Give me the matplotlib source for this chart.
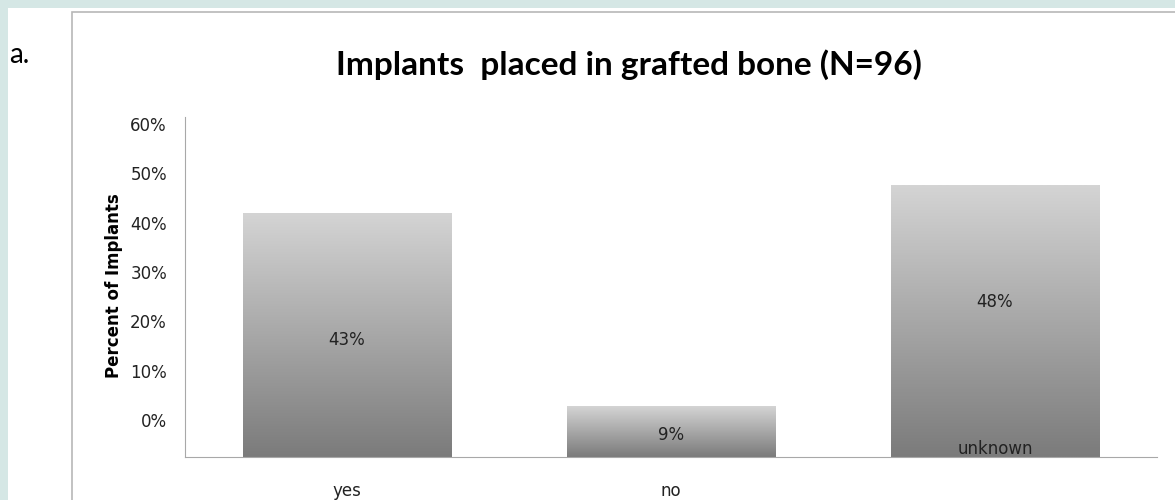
import numpy as np
import matplotlib.pyplot as plt
from matplotlib.colors import LinearSegmentedColormap
from matplotlib.patches import Rectangle

categories = ["yes", "no", "unknown"]
percents = [43, 9, 48]
tick_values = [0, 10, 20, 30, 40, 50, 60]
tick_labels = ["0%", "10%", "20%", "30%", "40%", "50%", "60%"]

narrow = ["Liberation Sans Narrow", "DejaVu Sans"]

fig = plt.figure(figsize=(11.75, 5), dpi=100)
fig.patch.set_facecolor("#d5e7e5")

# white slide panel and chart frame
fig.add_artist(Rectangle((8 / 1175, 0), 1, 1 - 8 / 500, transform=fig.transFigure,
                         facecolor="white", edgecolor="none", zorder=0))
fig.add_artist(Rectangle((72 / 1175, -0.1), 1, 1.1 - 12 / 500, transform=fig.transFigure,
                         facecolor="none", edgecolor="#b8b8b8", lw=1.2, zorder=1))
fig.text(9 / 1175, 1 - 63 / 500, "a.", fontsize=20, family="Lato", va="baseline", ha="left")

ax = fig.add_axes([185 / 1175, 43 / 500, 972 / 1175, 340 / 500])
ax.set_facecolor("none")

gray = LinearSegmentedColormap.from_list("bar", ["#7b7b7b", "#d4d4d4"])
grad = np.linspace(0, 1, 256).reshape(-1, 1)
width = 0.644
x = np.arange(len(categories))
for xi, p in zip(x, percents):
    ax.imshow(grad, cmap=gray, aspect="auto", origin="lower",
              extent=(xi - width / 2, xi + width / 2, 0, p), zorder=2)
ax.set_xlim(-0.5, 2.5)
ax.set_ylim(0, 60)

# value labels inside the bars
label_frac = [0.48, 0.43, 0.57]
for xi, p, f in zip(x, percents, label_frac):
    ax.text(xi, p * f, f"{p}%", ha="center", va="center", fontsize=12,
            family=narrow, color="#222222", zorder=3)

# category labels below the axis (the last one sits inside its bar)
cat_y = [-0.1, -0.1, 0.024]
for xi, c, cy in zip(x, categories, cat_y):
    ax.text(xi, cy, c, transform=ax.get_xaxis_transform(), ha="center", va="center",
            fontsize=12, family=narrow, color="#222222", zorder=3)

for s in ["top", "right"]:
    ax.spines[s].set_visible(False)
ax.spines["left"].set_color("#a8a8a8")
ax.spines["bottom"].set_color("#a8a8a8")
ax.set_xticks([])
ax.set_yticks([6.5 + 0.872 * v for v in tick_values])
ax.set_yticklabels(tick_labels, family=narrow, fontsize=12, color="#222222")
ax.tick_params(axis="y", length=0, pad=13)
ax.set_ylabel("Percent of Implants", fontsize=12, fontweight="bold", family="DejaVu Sans")
ax.yaxis.set_label_coords(-0.0638, 0.503)

fig.text(629 / 1175, 1 - 75 / 500, "Implants  placed in grafted bone (N=96)", fontsize=24,
         family="Lato", fontweight="bold", ha="center", va="baseline")

fig.savefig("out.png", dpi=100)
